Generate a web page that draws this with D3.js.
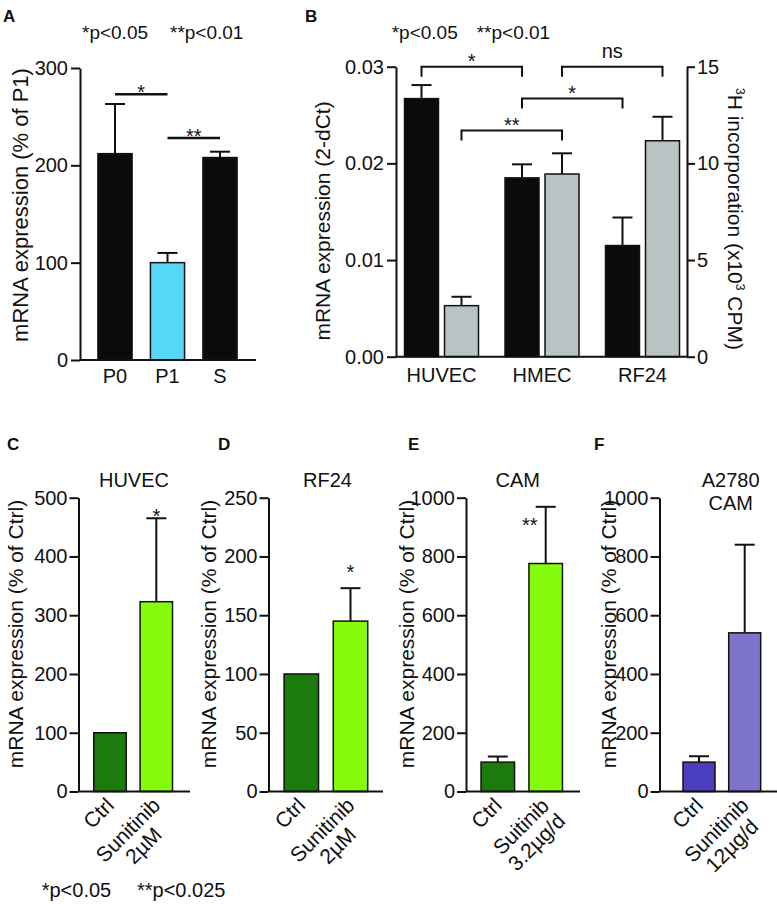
<!DOCTYPE html>
<html><head><meta charset="utf-8">
<script src="https://cdn.jsdelivr.net/npm/d3@7"></script>
<style>
body{margin:0;background:#fff}
svg{display:block}
text{font-family:'Liberation Sans',Arial,Helvetica,sans-serif;fill:#111}
</style>
</head><body>
<svg id="chart" width="777" height="904"></svg>
<script>
// ---------------- DATA ----------------
// Panel A
const aCategories = ["P0", "P1", "S"];
const aValues = [212, 100, 208];
const aErrors = [51, 10, 6];
const aTicks = [0, 100, 200, 300];
const aSig = [{from: 0, to: 1, level: 273, label: "*"}, {from: 1, to: 2, level: 228, label: "**"}];

// Panel B
const bCategories = ["HUVEC", "HMEC", "RF24"];
const bSeries = ["mRNA", "thymidine"];
const bMrna = [0.0267, 0.0185, 0.0115];
const bMrnaErr = [0.0014, 0.0014, 0.0029];
const bThymidine = [2.64, 9.45, 11.17];
const bThymidineErr = [0.46, 1.07, 1.24];
const bLeftTicks = [0, 0.01, 0.02, 0.03];
const bRightTicks = [0, 5, 10, 15];
const bBrackets = [
  {a: [0, 0], b: [1, 0], level: 0.0300, label: "*"},
  {a: [1, 1], b: [2, 1], level: 0.0300, label: "ns"},
  {a: [1, 0], b: [2, 0], level: 0.0267, label: "*"},
  {a: [0, 1], b: [1, 1], level: 0.0234, label: "**"}
];

// Panels C-F
const cCategories = ["Ctrl", "Sunitinib\n2\u00b5M"];
const cValues = [100, 323];
const cErrors = [0, 142];
const cTicks = [0, 100, 200, 300, 400, 500];

const dCategories = ["Ctrl", "Sunitinib\n2\u00b5M"];
const dValues = [100, 145];
const dErrors = [0, 28];
const dTicks = [0, 50, 100, 150, 200, 250];

const eCategories = ["Ctrl", "Suitinib\n3.2\u00b5g/d"];
const eValues = [100, 776];
const eErrors = [19, 193];
const eTicks = [0, 200, 400, 600, 800, 1000];

const fCategories = ["Ctrl", "Sunitinib\n12\u00b5g/d"];
const fValues = [100, 540];
const fErrors = [20, 300];
const fTicks = [0, 200, 400, 600, 800, 1000];

// ---------------- DRAWING ----------------
const FONT = "'Liberation Sans',Arial,Helvetica,sans-serif";
const INK = "#111";
const svg = d3.select("#chart");

function styleAxis(g, fs) {
  g.attr("font-family", FONT).attr("font-size", fs);
  g.selectAll("path,line").attr("stroke", INK).attr("stroke-width", 2);
  g.selectAll("text").attr("fill", INK);
}
function yLabel(x, y, txt, fs) {
  svg.append("text").attr("transform", `translate(${x},${y}) rotate(-90)`)
    .attr("text-anchor", "middle").attr("dy", "0.35em")
    .style("font-size", (fs || 21) + "px").text(txt);
}
function letter(x, y, txt) {
  svg.append("text").attr("x", x).attr("y", y).style("font-size", "17px")
    .style("font-weight", "bold").text(txt);
}
function plain(x, y, txt, fs, anchor) {
  return svg.append("text").attr("x", x).attr("y", y).style("font-size", fs + "px")
    .attr("text-anchor", anchor || "start").text(txt);
}
function errBar(g, cx, y0, y1) {
  g.append("line").attr("x1", cx).attr("x2", cx).attr("y1", y0).attr("y2", y1)
    .attr("stroke", INK).attr("stroke-width", 2);
  g.append("line").attr("x1", cx - 10).attr("x2", cx + 10).attr("y1", y1).attr("y2", y1)
    .attr("stroke", INK).attr("stroke-width", 2);
}

// ---- Panel A ----
(function() {
  const g = svg.append("g");
  const y = d3.scaleLinear().domain([0, 300]).range([360, 68]);
  const x = d3.scaleBand().domain(aCategories).range([88.75, 246.25]).paddingInner(0.35).paddingOuter(0.175);
  const colors = ["#0b0b0b", "#57d7f7", "#0b0b0b"];
  aCategories.forEach((c, i) => {
    g.append("rect").attr("x", x(c)).attr("y", y(aValues[i])).attr("width", x.bandwidth())
      .attr("height", y(0) - y(aValues[i])).attr("fill", colors[i]).attr("stroke", INK).attr("stroke-width", 1.5);
    errBar(g, x(c) + x.bandwidth() / 2, y(aValues[i]), y(aValues[i] + aErrors[i]));
  });
  g.append("g").attr("transform", "translate(80,0)")
    .call(d3.axisLeft(y).tickValues(aTicks).tickFormat(d3.format("d")).tickSize(9).tickPadding(3).tickSizeOuter(0))
    .call(a => styleAxis(a, 20));
  g.append("line").attr("x1", 80).attr("x2", 256).attr("y1", y(0)).attr("y2", y(0)).attr("stroke", INK).attr("stroke-width", 2);
  g.append("g").attr("transform", `translate(0,${y(0)})`)
    .call(d3.axisBottom(x).tickSize(0).tickPadding(9))
    .call(a => { a.select(".domain").remove(); styleAxis(a, 20); });
  aSig.forEach(s => {
    const x1 = x(aCategories[s.from]) + x.bandwidth() / 2, x2 = x(aCategories[s.to]) + x.bandwidth() / 2;
    g.append("line").attr("x1", x1).attr("x2", x2).attr("y1", y(s.level)).attr("y2", y(s.level))
      .attr("stroke", INK).attr("stroke-width", 2.5);
    g.append("text").attr("x", (x1 + x2) / 2).attr("y", y(s.level) + 5).attr("text-anchor", "middle")
      .style("font-size", "20px").text(s.label);
  });
  yLabel(20, 205, "mRNA expression (% of P1)", 22);
  letter(3, 22, "A");
  plain(82, 39, "*p<0.05", 19);
  plain(170, 39, "**p<0.01", 19);
})();

// ---- Panel B ----
(function() {
  const g = svg.append("g");
  const yL = d3.scaleLinear().domain([0, 0.03]).range([356.7, 66.7]);
  const yR = d3.scaleLinear().domain([0, 15]).range([356.7, 66.7]);
  const x0 = d3.scaleBand().domain(bCategories).range([391.25, 692.75]).padding(0);
  const half = x0.bandwidth() / 2;
  const x1 = d3.scaleBand().domain(bSeries).range([half - 37, half + 37]).paddingInner(0.15);
  const colors = ["#0b0b0b", "#b8c4c4"];
  bCategories.forEach((c, i) => {
    const vals = [bMrna[i], bThymidine[i]];
    const errs = [bMrnaErr[i], bThymidineErr[i]];
    const scales = [yL, yR];
    bSeries.forEach((s, j) => {
      const y = scales[j];
      const bx = x0(c) + x1(s);
      g.append("rect").attr("x", bx).attr("y", y(vals[j])).attr("width", x1.bandwidth())
        .attr("height", y(0) - y(vals[j])).attr("fill", colors[j]).attr("stroke", INK).attr("stroke-width", 1.5);
      errBar(g, bx + x1.bandwidth() / 2, y(vals[j]), y(vals[j] + errs[j]));
    });
  });
  g.append("g").attr("transform", "translate(396,0)")
    .call(d3.axisLeft(yL).tickValues(bLeftTicks).tickFormat(d3.format(".2f")).tickSize(9).tickPadding(3).tickSizeOuter(0))
    .call(a => styleAxis(a, 20));
  g.append("g").attr("transform", "translate(687,0)")
    .call(d3.axisRight(yR).tickValues(bRightTicks).tickFormat(d3.format("d")).tickSize(8).tickPadding(2).tickSizeOuter(0))
    .call(a => styleAxis(a, 20));
  g.append("line").attr("x1", 396).attr("x2", 687).attr("y1", yL(0)).attr("y2", yL(0)).attr("stroke", INK).attr("stroke-width", 2);
  g.append("g").attr("transform", `translate(0,${yL(0)})`)
    .call(d3.axisBottom(x0).tickSize(0).tickPadding(11))
    .call(a => { a.select(".domain").remove(); styleAxis(a, 20); });
  const cx = (p) => x0(bCategories[p[0]]) + x1(bSeries[p[1]]) + x1.bandwidth() / 2;
  bBrackets.forEach(b => {
    const xa = cx(b.a), xb = cx(b.b), yy = yL(b.level);
    g.append("path").attr("d", `M${xa},${yy + 10}V${yy}H${xb}V${yy + 10}`)
      .attr("fill", "none").attr("stroke", INK).attr("stroke-width", 2);
    g.append("text").attr("x", (xa + xb) / 2).attr("y", b.label === "ns" ? yy - 9 : yy + 1)
      .attr("text-anchor", "middle").style("font-size", "20px").text(b.label);
  });
  yLabel(323, 221, "mRNA expression  (2-dCt)", 21);
  const rl = svg.append("text").attr("transform", "translate(728,219) rotate(90)")
    .attr("text-anchor", "middle").style("font-size", "21px");
  rl.append("tspan").style("font-size", "12px").attr("dy", -8).text("3");
  rl.append("tspan").attr("dy", 8).text("H incorporation (x10");
  rl.append("tspan").style("font-size", "12px").attr("dy", -8).text("3");
  rl.append("tspan").attr("dy", 8).text(" CPM)");
  letter(305, 22, "B");
  plain(391.7, 39, "*p<0.05", 19);
  plain(476.7, 39, "**p<0.01", 19);
})();

// ---- Panels C-F ----
const smallPanels = [
  {id: "C", cats: cCategories, vals: cValues, errs: cErrors, ticks: cTicks, max: 500,
   colors: ["#1b7b0b", "#84fc0c"], axisX: 78.5, xEnd: 190, c0: 110, c1: 156.3,
   title: ["HUVEC"], titleX: 134, letterX: 7, labelX: 16,
   sig: {index: 1, level: 457, dx: 0, label: "*"}},
  {id: "D", cats: dCategories, vals: dValues, errs: dErrors, ticks: dTicks, max: 250,
   colors: ["#1b7b0b", "#84fc0c"], axisX: 268.5, xEnd: 383, c0: 301.3, c1: 350.5,
   title: ["RF24"], titleX: 327.5, letterX: 218, labelX: 209,
   sig: {index: 1, level: 181, dx: 0, label: "*"}},
  {id: "E", cats: eCategories, vals: eValues, errs: eErrors, ticks: eTicks, max: 1000,
   colors: ["#1b7b0b", "#84fc0c"], axisX: 466, xEnd: 580, c0: 497.8, c1: 545.7,
   title: ["CAM"], titleX: 517.7, letterX: 408, labelX: 407,
   sig: {index: 1, level: 883, dx: -16, label: "**"}},
  {id: "F", cats: fCategories, vals: fValues, errs: fErrors, ticks: fTicks, max: 1000,
   colors: ["#4b3fbf", "#7b73cc"], axisX: 659.5, xEnd: 777, c0: 699, c1: 744.7,
   title: ["A2780", "CAM"], titleX: 730.7, letterX: 594, labelX: 609, sig: null}
];

smallPanels.forEach(p => {
  const g = svg.append("g");
  const y = d3.scaleLinear().domain([0, p.max]).range([791.5, 497.7]);
  const step = p.c1 - p.c0;
  const x = d3.scaleBand().domain(p.cats).range([p.c0 - step / 2, p.c1 + step / 2])
    .paddingInner(0.3).paddingOuter(0.15);
  p.cats.forEach((c, i) => {
    g.append("rect").attr("x", x(c)).attr("y", y(p.vals[i])).attr("width", x.bandwidth())
      .attr("height", y(0) - y(p.vals[i])).attr("fill", p.colors[i]).attr("stroke", INK).attr("stroke-width", 1.5);
    if (p.errs[i] > 0) errBar(g, x(c) + x.bandwidth() / 2, y(p.vals[i]), y(p.vals[i] + p.errs[i]));
  });
  g.append("g").attr("transform", `translate(${p.axisX},0)`)
    .call(d3.axisLeft(y).tickValues(p.ticks).tickFormat(d3.format("d")).tickSize(9).tickPadding(2).tickSizeOuter(0))
    .call(a => styleAxis(a, 20));
  g.append("line").attr("x1", p.axisX).attr("x2", p.xEnd).attr("y1", y(0)).attr("y2", y(0))
    .attr("stroke", INK).attr("stroke-width", 2);
  const xa = g.append("g").attr("transform", `translate(0,${y(0)})`)
    .call(d3.axisBottom(x).tickSize(0).tickFormat(""));
  xa.select(".domain").remove();
  xa.selectAll(".tick").each(function(d) {
    const tk = d3.select(this);
    tk.selectAll("text").remove();
    const grp = tk.append("g").attr("transform", "translate(0,10) rotate(-45)");
    const lines = d.split("\n");
    const texts = lines.map((l, i) => grp.append("text").attr("text-anchor", "middle")
      .attr("dy", (0.35 + i * 1.05) + "em").attr("font-family", FONT).attr("fill", INK)
      .style("font-size", "21px").text(l));
    const maxLen = d3.max(texts, t => t.node().getComputedTextLength());
    texts.forEach(t => t.attr("x", -maxLen / 2));
  });
  if (p.sig) {
    const c = p.cats[p.sig.index];
    g.append("text").attr("x", x(c) + x.bandwidth() / 2 + p.sig.dx).attr("y", y(p.sig.level))
      .attr("text-anchor", "middle").style("font-size", "20px").text(p.sig.label);
  }
  p.title.forEach((t, i) => plain(p.titleX, 487 + i * 23, t, 20, "middle"));
  yLabel(p.labelX, 634, "mRNA expression (% of Ctrl)", 21);
  letter(p.letterX, 450, p.id);
});

plain(41.7, 897, "*p<0.05", 20);
plain(137, 897, "**p<0.025", 20);
</script>
</body></html>
